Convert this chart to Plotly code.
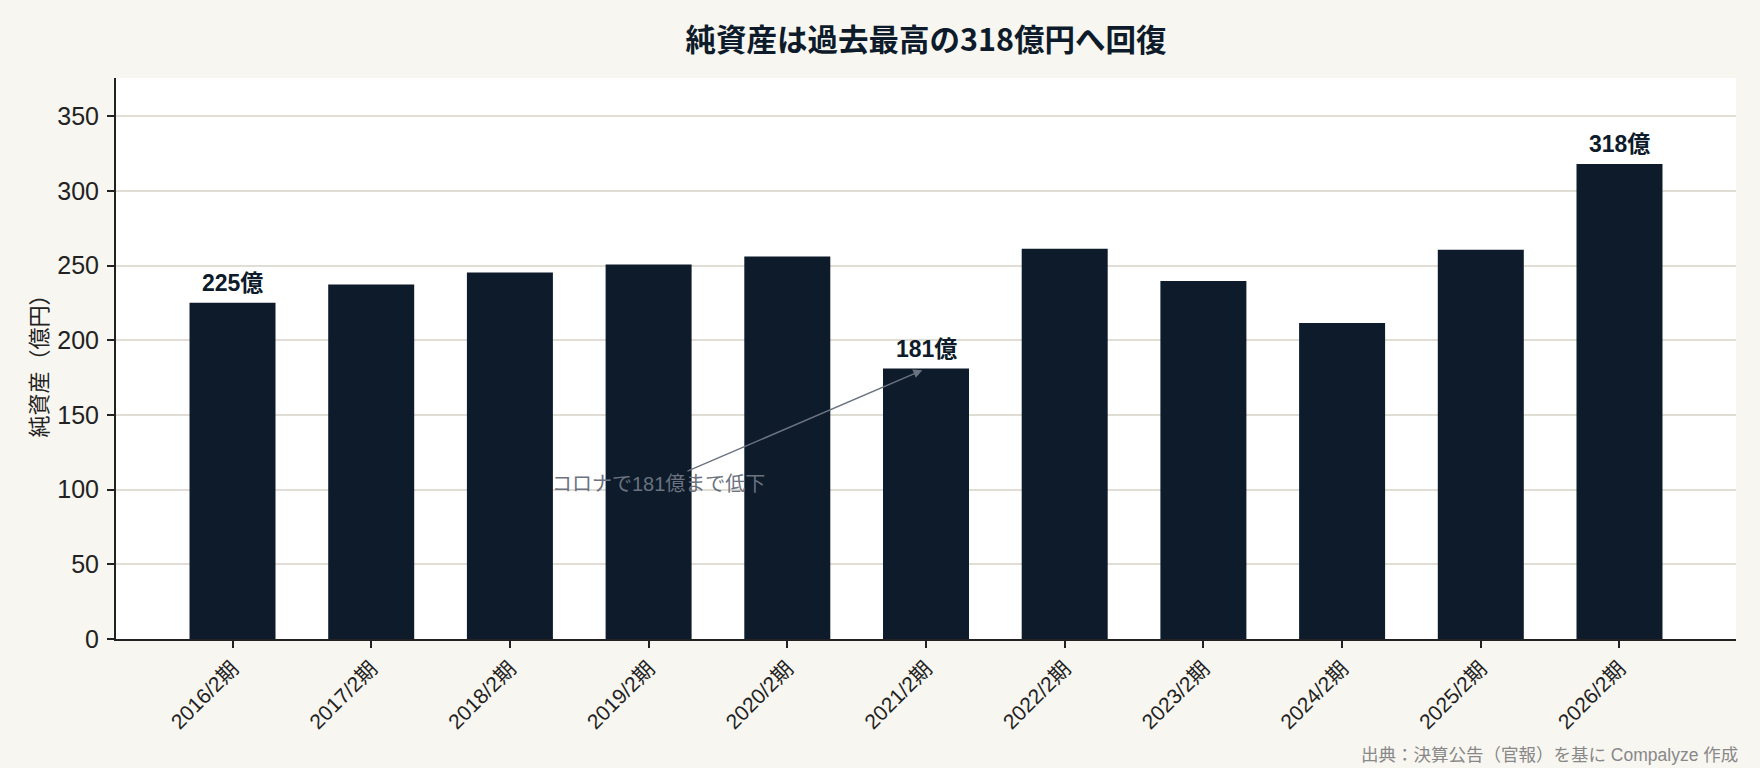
import plotly.graph_objects as go

categories = ["2016/2期", "2017/2期", "2018/2期", "2019/2期", "2020/2期", "2021/2期",
              "2022/2期", "2023/2期", "2024/2期", "2025/2期", "2026/2期"]
net_assets = [225, 237.3, 245.3, 250.7, 256.0, 181, 261.2, 239.7, 211.5, 260.5, 318]
bar_labels = ["225億", "", "", "", "", "181億", "", "", "", "", "318億"]
y_ticks = [0, 50, 100, 150, 200, 250, 300, 350]

title_text = "純資産は過去最高の318億円へ回復"
y_title = "純資産（億円）"
note_text = "コロナで181億まで低下"
source_text = "出典：決算公告（官報）を基に Compalyze 作成"

FONT = "Liberation Sans, Noto Sans CJK JP, sans-serif"
CJK = "Noto Sans CJK JP, sans-serif"
NAVY = "#0d1b2a"

fig = go.Figure()
fig.add_trace(go.Bar(
    x=list(range(len(categories))),
    y=net_assets,
    marker=dict(color=NAVY, line=dict(width=0)),
    width=0.62,
    hoverinfo="x+y",
))

fig.update_layout(
    width=1760, height=768,
    margin=dict(l=116, r=24, t=78, b=129),
    paper_bgcolor="#f8f6f0",
    plot_bgcolor="#ffffff",
    showlegend=False,
    font=dict(family=FONT, color="#222222"),
    title=dict(text=title_text, x=0.5, xref="paper", xanchor="center",
               y=1 - 40 / 768, yref="container", yanchor="middle",
               font=dict(family=CJK, size=30.5, color=NAVY, weight="bold")),
    xaxis=dict(
        tickmode="array",
        tickvals=list(range(len(categories))),
        ticktext=categories,
        range=[-0.84, len(categories) - 1 + 0.84],
        tickangle=-45,
        ticks="outside", ticklen=7, tickwidth=1.5, tickcolor="#222222",
        tickfont=dict(family=FONT, size=21, color="#222222"),
        showline=True, linecolor="#222222", linewidth=2,
        showgrid=False, zeroline=False,
    ),
    yaxis=dict(
        range=[0, 375.5],
        tickmode="array", tickvals=y_ticks,
        ticks="outside", ticklen=7, tickwidth=1.5, tickcolor="#222222",
        tickfont=dict(family=FONT, size=25, color="#222222"),
        ticklabelstandoff=3,
        showline=True, linecolor="#222222", linewidth=2,
        showgrid=True, gridcolor="#e0ddd5", gridwidth=1.5,
        zeroline=False,
    ),
)

# Value labels above selected bars
for i, lab in enumerate(bar_labels):
    if lab:
        fig.add_annotation(
            text=lab, x=i, y=net_assets[i], xref="x", yref="y",
            xanchor="center", yanchor="bottom", yshift=5,
            showarrow=False,
            font=dict(family=FONT, size=23, color=NAVY, weight="bold"),
        )

# Y axis title as rotated annotation
fig.add_annotation(
    text=y_title, textangle=-90,
    xref="paper", yref="paper",
    x=(37 - 116) / 1620, y=0.4966,
    xanchor="center", yanchor="middle",
    showarrow=False,
    font=dict(family=CJK, size=22, color="#222222"),
)

# Callout arrow
fig.add_annotation(
    text=note_text,
    x=5, y=net_assets[5], xref="x", yref="y",
    ax=3.07, ay=104, axref="x", ayref="y",
    showarrow=True, arrowhead=2, arrowsize=1.2, arrowwidth=1.5,
    arrowcolor="#6b7280", standoff=4,
    font=dict(family=FONT, size=20, color="#6b7280"),
)

# Source note
fig.add_annotation(
    text=source_text,
    xref="paper", yref="paper",
    x=1, xshift=4, y=(638.6 - 755) / 561, xanchor="right", yanchor="middle",
    showarrow=False,
    font=dict(family=FONT, size=17.5, color="#888888"),
)

fig.write_html("out.html")
